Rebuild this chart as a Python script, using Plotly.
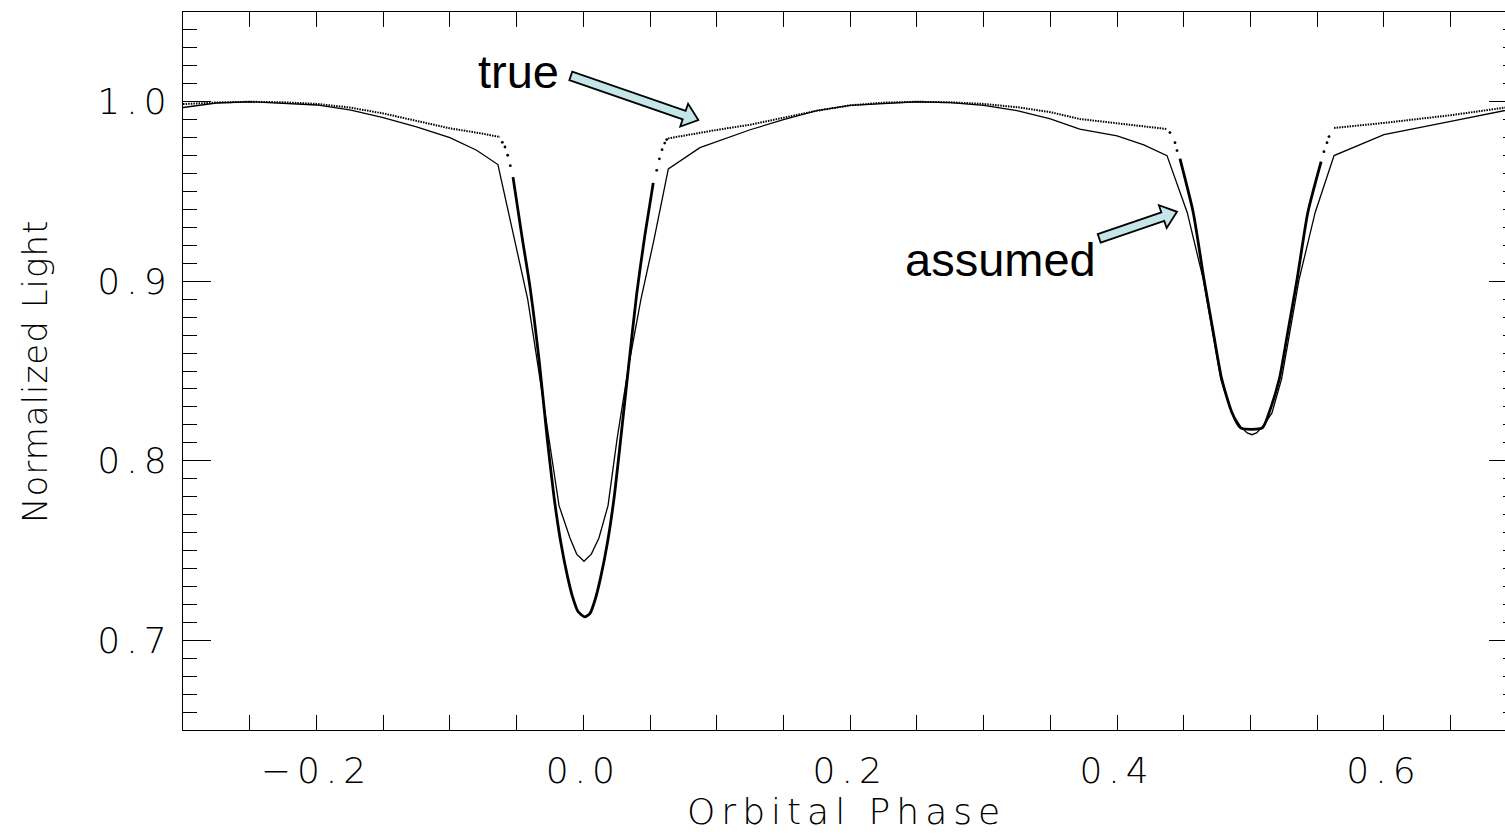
import numpy as np
import plotly.graph_objects as go

# ---------------------------------------------------------------- data
# "true" light curve, split into pieces by how densely it is sampled
true_out_a_phase = [-0.30, -0.275, -0.25, -0.225, -0.20, -0.175, -0.15, -0.125, -0.10, -0.08, -0.0624]
true_out_a_flux = [0.9987, 0.9996, 1.0000, 0.9997, 0.9988, 0.9968, 0.9935, 0.9895, 0.9852, 0.9828, 0.9804]

true_ingress_1_phase = [-0.0607, -0.0587, -0.0567, -0.0547]
true_ingress_1_flux = [0.9774, 0.9748, 0.9702, 0.9644]

true_primary_phase = [-0.0527, -0.046, -0.040, -0.033, -0.027, -0.022, -0.017, -0.012, -0.008, -0.004,
                      0.001, 0.005, 0.009, 0.013, 0.018, 0.023, 0.028, 0.034, 0.040, 0.046, 0.0524]
true_primary_flux = [0.958, 0.925, 0.897, 0.855, 0.812, 0.780, 0.755, 0.736, 0.724, 0.716,
                     0.713, 0.715, 0.723, 0.735, 0.754, 0.779, 0.812, 0.853, 0.893, 0.925, 0.9548]

true_egress_1_phase = [0.0550, 0.0570, 0.0590, 0.0610, 0.0625]
true_egress_1_flux = [0.9618, 0.9682, 0.9733, 0.9770, 0.9789]

true_out_b_phase = [0.0635, 0.08, 0.10, 0.125, 0.15, 0.175, 0.20, 0.225, 0.25, 0.275, 0.30, 0.325,
                    0.35, 0.372, 0.40, 0.42, 0.4374]
true_out_b_flux = [0.9796, 0.9818, 0.9843, 0.9872, 0.9910, 0.9950, 0.9980, 0.9995, 1.0000, 0.9997, 0.9988,
                   0.9970, 0.9942, 0.9904, 0.9880, 0.9864, 0.9848]

true_ingress_2_phase = [0.4396, 0.4434, 0.4449]
true_ingress_2_flux = [0.9828, 0.9772, 0.9728]

true_secondary_phase = [0.4471, 0.4571, 0.4651, 0.4720, 0.4784, 0.4859, 0.4926, 0.5088, 0.5141, 0.5216,
                        0.5280, 0.5349, 0.5429, 0.5529]
true_secondary_flux = [0.9683, 0.9382, 0.9011, 0.8720, 0.8456, 0.8272, 0.8183, 0.8183, 0.8272, 0.8456,
                       0.8720, 0.9011, 0.9382, 0.9667]

true_egress_2_phase = [0.5550, 0.5573, 0.5588]
true_egress_2_flux = [0.9722, 0.9772, 0.9806]

true_out_c_phase = [0.5626, 0.60, 0.65, 0.70]
true_out_c_flux = [0.9854, 0.9882, 0.9925, 0.9977]

# "assumed" model light curve
assumed_phase = [-0.30, -0.275, -0.25, -0.20, -0.175, -0.15, -0.125, -0.10, -0.08, -0.064,
                 -0.0516, -0.0417, -0.034, -0.0257, -0.0182, -0.010, -0.005, 0.0005, 0.006, 0.0117,
                 0.0185, 0.0253, 0.034, 0.0432, 0.053, 0.0637, 0.0874, 0.125, 0.15, 0.175,
                 0.20, 0.25, 0.275, 0.30, 0.325, 0.35, 0.372, 0.40, 0.42, 0.4374,
                 0.4526, 0.4646, 0.4777, 0.486, 0.4926, 0.4975, 0.501, 0.5045, 0.509, 0.516,
                 0.5233, 0.5364, 0.5484, 0.5626, 0.5746, 0.60, 0.65, 0.70]
assumed_flux = [0.9968, 0.9993, 1.0000, 0.9982, 0.9955, 0.9912, 0.9860, 0.9800, 0.9730, 0.9650,
                0.9233, 0.8900, 0.8530, 0.8122, 0.7750, 0.7570, 0.7480, 0.7440, 0.7480, 0.7570,
                0.7750, 0.8122, 0.8530, 0.8900, 0.9233, 0.9626, 0.9744, 0.9844, 0.9900, 0.9950,
                0.9980, 1.0000, 0.9995, 0.9980, 0.9950, 0.9905, 0.9848, 0.9810, 0.9760, 0.9700,
                0.9382, 0.9010, 0.8456, 0.8265, 0.8190, 0.8155, 0.8145, 0.8155, 0.8190, 0.8265,
                0.8456, 0.9010, 0.9382, 0.9700, 0.9737, 0.9817, 0.9891, 0.9965]

x_tick_vals = [-0.2, 0.0, 0.2, 0.4, 0.6]
y_tick_vals = [0.7, 0.8, 0.9, 1.0]

x_title = "Orbital Phase"
y_title = "Normalized Light"

# labels with their arrows: (text, text position, arrow tail, arrow tip)
labels = [
    ("true", (-0.0486, 1.0167), (-0.0094, 1.0144), (0.0862, 0.9898)),
    ("assumed", (0.3130, 0.9120), (0.3866, 0.9239), (0.4449, 0.9387)),
]

# ---------------------------------------------------------------- layout geometry
W, H = 1505, 834
ML, MR, MT, MB = 183, 0, 12, 104
X_RANGE = [-0.3, 0.6907]
Y_RANGE = [0.65, 1.05]
PX_X = (W - ML - MR) / (X_RANGE[1] - X_RANGE[0])
PX_Y = (H - MT - MB) / (Y_RANGE[1] - Y_RANGE[0])

TICK_FONT = dict(family="DejaVu Sans, Liberation Sans, sans-serif", size=36, color="black", weight=200)
XTITLE_FONT = dict(family="DejaVu Sans, Liberation Sans, sans-serif", size=36, color="black", weight=200)
YTITLE_FONT = dict(family="DejaVu Sans, Liberation Sans, sans-serif", size=34, color="black", weight=200)
LABEL_FONT = dict(family="Liberation Sans, Arial, sans-serif", size=47, color="black")
ARROW_FILL = "#c4e6e8"


def spaced(text, px):
    """Wide-set lettering for the axis text."""
    return f'<span style="letter-spacing:{px}px">{text}</span>'


def fmt_tick(v):
    return f"{v:.1f}".replace("-", "\u2212")


def block_arrow(tail, tip, shaft=4.5, head_w=12.0, head_l=15.0):
    """Closed SVG path of a block arrow in data coordinates, shaped in pixels."""
    tx, ty = tail[0] * PX_X, -tail[1] * PX_Y
    hx, hy = tip[0] * PX_X, -tip[1] * PX_Y
    d = np.array([hx - tx, hy - ty])
    u = d / np.hypot(*d)
    n = np.array([-u[1], u[0]])
    t = np.array([tx, ty])
    h = np.array([hx, hy])
    b = h - head_l * u
    pts = [t + shaft * n, b + shaft * n, b + head_w * n, h,
           b - head_w * n, b - shaft * n, t - shaft * n]
    coords = [(p[0] / PX_X, -p[1] / PX_Y) for p in pts]
    return "M " + " L ".join(f"{x:.6f},{y:.6f}" for x, y in coords) + " Z"


fig = go.Figure()

# dotted stretches of the true curve (fine sampling outside eclipse)
for px_, fy_ in [(true_out_a_phase, true_out_a_flux),
                 (true_out_b_phase, true_out_b_flux),
                 (true_out_c_phase, true_out_c_flux)]:
    fig.add_trace(go.Scatter(x=px_, y=fy_, mode="lines",
                             line=dict(color="black", width=2.0, dash="1.5px,1.1px"),
                             hoverinfo="skip", showlegend=False))

# sparse points on the steep eclipse shoulders
for px_, fy_ in [(true_ingress_1_phase, true_ingress_1_flux),
                 (true_egress_1_phase, true_egress_1_flux),
                 (true_ingress_2_phase, true_ingress_2_flux),
                 (true_egress_2_phase, true_egress_2_flux)]:
    fig.add_trace(go.Scatter(x=px_, y=fy_, mode="markers",
                             marker=dict(color="black", size=2.8),
                             hoverinfo="skip", showlegend=False))

# densely sampled eclipse cores
for px_, fy_ in [(true_primary_phase, true_primary_flux),
                 (true_secondary_phase, true_secondary_flux)]:
    fig.add_trace(go.Scatter(x=px_, y=fy_, mode="lines",
                             line=dict(color="black", width=2.8, shape="spline", smoothing=0.6),
                             hoverinfo="skip", showlegend=False))

# assumed model
fig.add_trace(go.Scatter(x=assumed_phase, y=assumed_flux, mode="lines",
                         line=dict(color="black", width=1.3),
                         hoverinfo="skip", showlegend=False))

# right-hand axis ticks (the axis itself sits just past the visible edge)
fig.add_trace(go.Scatter(x=[None], y=[None], yaxis="y2", showlegend=False, hoverinfo="skip"))

shapes = []
annotations = []
for text, pos, tail, tip in labels:
    shapes.append(dict(type="path", path=block_arrow(tail, tip), xref="x", yref="y",
                       fillcolor=ARROW_FILL, line=dict(color="black", width=1.8), layer="above"))
    annotations.append(dict(x=pos[0], y=pos[1], xref="x", yref="y", text=text, showarrow=False,
                            xanchor="center", yanchor="middle", font=LABEL_FONT))

annotations.append(dict(x=0.502, y=-0.113, xref="paper", yref="paper", text=spaced(x_title, 6),
                        showarrow=False, xanchor="center", yanchor="middle", font=XTITLE_FONT))
annotations.append(dict(x=-0.112, y=0.5, xref="paper", yref="paper", text=spaced(y_title, 1),
                        textangle=-90, showarrow=False, xanchor="center", yanchor="middle",
                        font=YTITLE_FONT))

fig.update_layout(
    width=W, height=H,
    margin=dict(l=ML, r=MR, t=MT, b=MB, pad=0),
    paper_bgcolor="white", plot_bgcolor="white",
    showlegend=False,
    shapes=shapes,
    annotations=annotations,
    xaxis=dict(
        range=X_RANGE, showgrid=False, zeroline=False,
        showline=True, linecolor="black", linewidth=1.4, mirror="allticks",
        ticks="inside", ticklen=15, tickwidth=1.3, tickcolor="black",
        tickvals=x_tick_vals, ticktext=[spaced(fmt_tick(v), 6) for v in x_tick_vals],
        tickfont=TICK_FONT, ticklabelstandoff=9,
        minor=dict(dtick=0.05, tick0=0.0, ticks="inside", ticklen=8, tickwidth=1.3,
                   tickcolor="black", showgrid=False),
    ),
    yaxis=dict(
        range=Y_RANGE, showgrid=False, zeroline=False,
        showline=True, linecolor="black", linewidth=1.4, mirror=False,
        ticks="inside", ticklen=28, tickwidth=1.3, tickcolor="black",
        tickvals=y_tick_vals, ticktext=[spaced(fmt_tick(v), 6) for v in y_tick_vals],
        tickfont=TICK_FONT, ticklabelstandoff=2,
        minor=dict(dtick=0.01, tick0=0.0, ticks="inside", ticklen=14, tickwidth=1.3,
                   tickcolor="black", showgrid=False),
    ),
    yaxis2=dict(
        range=Y_RANGE, overlaying="y", side="right", showgrid=False, zeroline=False,
        showline=False, showticklabels=False,
        ticks="inside", ticklen=16, tickwidth=1.3, tickcolor="black",
        tickvals=y_tick_vals,
        minor=dict(dtick=0.01, tick0=0.0, ticks="inside", ticklen=2, tickwidth=1.3,
                   tickcolor="black", showgrid=False),
    ),
)

fig.write_html("out.html")
